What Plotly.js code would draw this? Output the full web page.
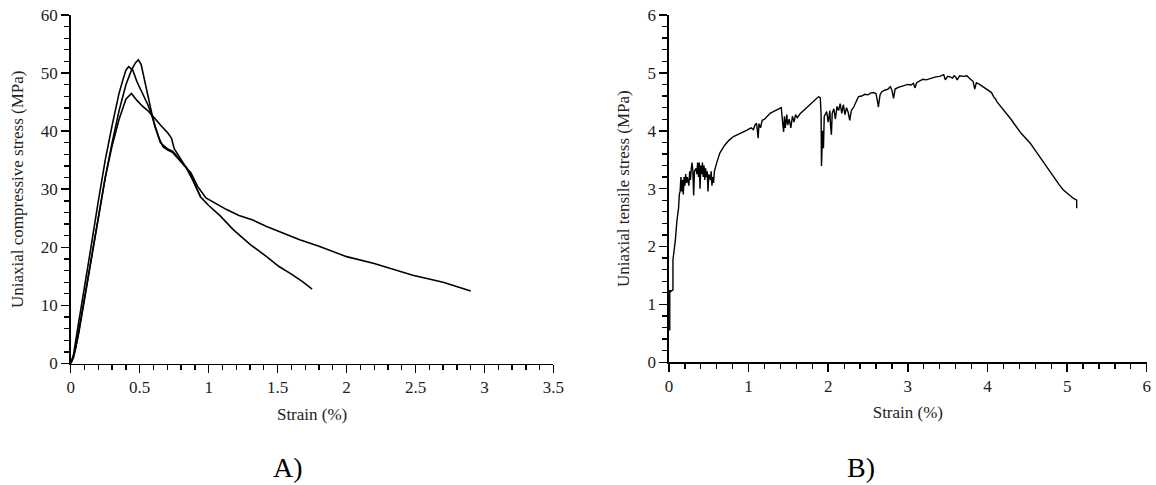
<!DOCTYPE html>
<html>
<head>
<meta charset="utf-8">
<script src="https://cdn.plot.ly/plotly-3.0.1.min.js"></script>
<style>html,body{margin:0;padding:0;background:#fff;}#chart{width:1156px;height:485px;}</style>
</head>
<body>
<div id="chart"></div>
<script>
// Panel A: uniaxial compression, three specimens
const compStrain1 = [0, 0.02, 0.05, 0.1, 0.15, 0.2, 0.25, 0.3, 0.35, 0.4, 0.44, 0.47, 0.49, 0.51, 0.54, 0.57, 0.59, 0.61, 0.64, 0.67, 0.7, 0.74, 0.79, 0.84, 0.88, 0.94, 1.0, 1.08, 1.18, 1.3, 1.42, 1.51, 1.6, 1.68, 1.75];
const compStress1 = [0, 1, 4.5, 11.5, 18.5, 25.5, 32, 38, 43.5, 48, 50.5, 51.8, 52.3, 51.5, 48, 44.5, 42.8, 40.8, 38.8, 37.3, 36.8, 36.3, 35, 33.6, 31.8, 28.7, 27.2, 25.5, 23, 20.5, 18.4, 16.7, 15.4, 14.1, 12.8];
const compStrain2 = [0, 0.02, 0.05, 0.1, 0.15, 0.2, 0.25, 0.3, 0.35, 0.38, 0.4, 0.42, 0.45, 0.48, 0.52, 0.56, 0.586, 0.62, 0.66, 0.7, 0.73, 0.75, 0.79, 0.84, 0.87, 0.92, 0.98, 1.05, 1.13, 1.22, 1.32, 1.42, 1.51, 1.66, 1.8, 2.0, 2.2, 2.48, 2.7, 2.9];
const compStress2 = [0, 1.5, 6, 13, 20.5, 28, 35, 41, 46.5, 49, 50.5, 51.1, 50.5, 48.5, 46.5, 44.5, 42.8, 41.8, 40.8, 39.8, 38.8, 37, 35.5, 33.6, 32.9, 30.5, 28.5, 27.5, 26.5, 25.5, 24.7, 23.6, 22.7, 21.3, 20.2, 18.4, 17.2, 15.2, 14, 12.5];
const compStrain3 = [0, 0.03, 0.06, 0.1, 0.15, 0.2, 0.25, 0.3, 0.35, 0.4, 0.44, 0.48, 0.52, 0.56, 0.586, 0.61, 0.65, 0.7, 0.74, 0.79, 0.84, 0.88, 0.94];
const compStress3 = [0, 2, 5.5, 11, 18.5, 25.5, 32, 37.5, 42, 45.5, 46.5, 45.3, 44.3, 43.5, 42.8, 41.0, 38.0, 37.0, 36.5, 35.1, 33.7, 31.9, 28.8];

// Panel B: uniaxial tension
const tensStrain = [0.01, 0.01, 0.02, 0.05, 0.05, 0.07, 0.08, 0.10, 0.12, 0.13, 0.14,
  0.15, 0.16, 0.17, 0.18, 0.19, 0.20, 0.21, 0.22, 0.23, 0.25, 0.26, 0.27, 0.28, 0.29, 0.30, 0.31, 0.32, 0.34, 0.35, 0.36, 0.37, 0.38, 0.39, 0.40, 0.41, 0.42, 0.43, 0.44, 0.45, 0.46, 0.47, 0.48, 0.49, 0.50, 0.52, 0.53, 0.54, 0.55, 0.56, 0.57,
  0.60, 0.64, 0.7, 0.75, 0.81, 0.86, 0.92, 0.98, 1.03, 1.06, 1.08, 1.10, 1.12, 1.13, 1.15, 1.17, 1.2, 1.23, 1.27, 1.31, 1.35, 1.39, 1.41, 1.43, 1.44, 1.45, 1.46, 1.48, 1.49, 1.51, 1.53, 1.55, 1.57, 1.59, 1.61, 1.65, 1.69, 1.73, 1.77, 1.81, 1.85, 1.88, 1.9, 1.91, 1.915, 1.925, 1.93, 1.94, 1.95, 1.97, 1.98, 2.0, 2.02, 2.03, 2.04, 2.05, 2.07, 2.09, 2.11, 2.13, 2.15, 2.17, 2.19, 2.21, 2.23, 2.25, 2.27, 2.29, 2.32, 2.35, 2.38, 2.42, 2.46, 2.5, 2.53, 2.57, 2.6, 2.62, 2.63, 2.65, 2.67, 2.71, 2.75, 2.78, 2.8, 2.82, 2.84, 2.88, 2.92, 2.96, 3.0, 3.04, 3.07, 3.09, 3.11, 3.15, 3.19, 3.23, 3.27, 3.31, 3.35, 3.4, 3.45, 3.47, 3.5, 3.53, 3.56, 3.58, 3.6, 3.62, 3.65, 3.7, 3.74, 3.78, 3.82, 3.84, 3.86, 3.9, 3.94, 3.98, 4.02, 4.05, 4.08, 4.1, 4.12, 4.16, 4.2, 4.25, 4.3, 4.33, 4.38, 4.42, 4.46, 4.5, 4.54, 4.58, 4.62, 4.66, 4.7, 4.74, 4.78, 4.82, 4.86, 4.9, 4.95, 5.0, 5.04, 5.08, 5.12, 5.12];
const tensStress = [0.55, 1.25, 1.22, 1.25, 1.77, 2.0, 2.11, 2.45, 2.66, 2.9, 2.95,
  3.2, 2.95, 3.15, 2.9, 3.2, 3.05, 3.25, 3.1, 3.2, 3.05, 3.3, 3.15, 3.35, 3.45, 3.3, 2.88, 3.3, 3.35, 3.25, 3.45, 3.2, 3.45, 3.0, 3.4, 3.25, 3.45, 3.2, 3.4, 3.15, 3.35, 3.2, 3.3, 2.95, 3.25, 3.15, 3.3, 3.05, 3.2, 3.1, 3.3,
  3.45, 3.62, 3.75, 3.83, 3.9, 3.93, 3.96, 4.01, 4.05, 4.02, 4.1, 4.13, 3.87, 4.12, 4.05, 4.18, 4.2, 4.25, 4.3, 4.33, 4.36, 4.39, 4.4, 4.1, 3.98, 4.25, 4.05, 4.28, 4.1, 4.2, 4.05, 4.25, 4.15, 4.28, 4.22, 4.3, 4.35, 4.39, 4.45, 4.5, 4.55, 4.59, 4.57, 4.3, 3.39, 3.8, 4.0, 3.7, 4.25, 4.3, 4.33, 4.15, 4.35, 4.07, 3.93, 4.3, 4.38, 4.2, 4.42, 4.35, 4.47, 4.3, 4.45, 4.28, 4.4, 4.32, 4.18, 4.35, 4.41, 4.5, 4.59, 4.6, 4.63, 4.62, 4.65, 4.66, 4.64, 4.5, 4.41, 4.62, 4.67, 4.7, 4.72, 4.76, 4.7, 4.56, 4.72, 4.75, 4.77, 4.78, 4.8, 4.79, 4.82, 4.74, 4.83, 4.86, 4.89, 4.88, 4.9, 4.91, 4.93, 4.94, 4.97, 4.88, 4.94, 4.93, 4.91, 4.95, 4.93, 4.88, 4.95, 4.94, 4.95, 4.9, 4.85, 4.72, 4.83, 4.8, 4.76, 4.72, 4.68, 4.66, 4.58, 4.55, 4.5, 4.43, 4.38, 4.28, 4.19, 4.13, 4.03, 3.96, 3.9, 3.84, 3.78, 3.7, 3.62, 3.53, 3.46, 3.38, 3.3, 3.22, 3.14, 3.07, 2.98, 2.92, 2.88, 2.83, 2.8, 2.66];

const panelLabels = ["A)", "B)"];
const xTitle = "Strain (%)";
const yTitleA = "Uniaxial compressive stress (MPa)";
const yTitleB = "Uniaxial tensile stress (MPa)";

const lineStyle = {color: "#000", width: 1.6};
const traces = [
  {x: compStrain1, y: compStress1, xaxis: "x", yaxis: "y", mode: "lines", line: lineStyle},
  {x: compStrain2, y: compStress2, xaxis: "x", yaxis: "y", mode: "lines", line: lineStyle},
  {x: compStrain3, y: compStress3, xaxis: "x", yaxis: "y", mode: "lines", line: lineStyle},
  {x: tensStrain, y: tensStress, xaxis: "x2", yaxis: "y2", mode: "lines", line: {color: "#000", width: 1.4}}
];

const SERIF = "Liberation Serif";
const txtColor = "#222";
const tickFont = {family: SERIF, size: 17, color: txtColor};
const titleFont = {family: SERIF, size: 17, color: txtColor};
function ax(extra) {
  return Object.assign({
    showgrid: false, zeroline: false, showline: true, linecolor: "#000", linewidth: 1.5,
    ticks: "outside", ticklen: 8, tickwidth: 1.5, tickcolor: "#000",
    tickfont: tickFont, fixedrange: true
  }, extra);
}

const layout = {
  width: 1156, height: 485,
  margin: {l: 0, r: 0, t: 0, b: 0},
  paper_bgcolor: "#fff", plot_bgcolor: "#fff",
  showlegend: false,
  font: {family: SERIF, color: txtColor},
  xaxis: ax({domain: [0.0612, 0.4788], range: [0, 3.5], dtick: 0.5, anchor: "y",
    minor: {dtick: 0.1, ticks: "outside", ticklen: 5, tickwidth: 1.3, tickcolor: "#000"},
    title: {text: xTitle, font: titleFont, standoff: 11}}),
  yaxis: ax({domain: [0.2505, 0.9691], range: [0, 60], dtick: 10, anchor: "x",
    minor: {dtick: 2, ticks: "outside", ticklen: 5, tickwidth: 1.3, tickcolor: "#000"},
    title: {text: yTitleA, font: titleFont, standoff: 13}}),
  xaxis2: ax({domain: [0.5787, 0.9920], range: [0, 6], dtick: 1, anchor: "y2",
    minor: {dtick: 0.2, ticks: "outside", ticklen: 5, tickwidth: 1.3, tickcolor: "#000"},
    title: {text: xTitle, font: titleFont, standoff: 11}}),
  yaxis2: ax({domain: [0.2530, 0.9691], range: [0, 6], dtick: 1, anchor: "x2",
    minor: {dtick: 0.2, ticks: "outside", ticklen: 5, tickwidth: 1.3, tickcolor: "#000"},
    title: {text: yTitleB, font: titleFont, standoff: 13}}),
  annotations: [
    {text: panelLabels[0], xref: "paper", yref: "paper", x: 288/1156, y: 1 - 467/485, xanchor: "center", yanchor: "middle", showarrow: false,
     font: {family: SERIF, size: 28, color: "#000"}},
    {text: panelLabels[1], xref: "paper", yref: "paper", x: 861/1156, y: 1 - 467/485, xanchor: "center", yanchor: "middle", showarrow: false,
     font: {family: SERIF, size: 28, color: "#000"}}
  ]
};

Plotly.newPlot("chart", traces, layout, {staticPlot: true, displayModeBar: false});
</script>
</body>
</html>
